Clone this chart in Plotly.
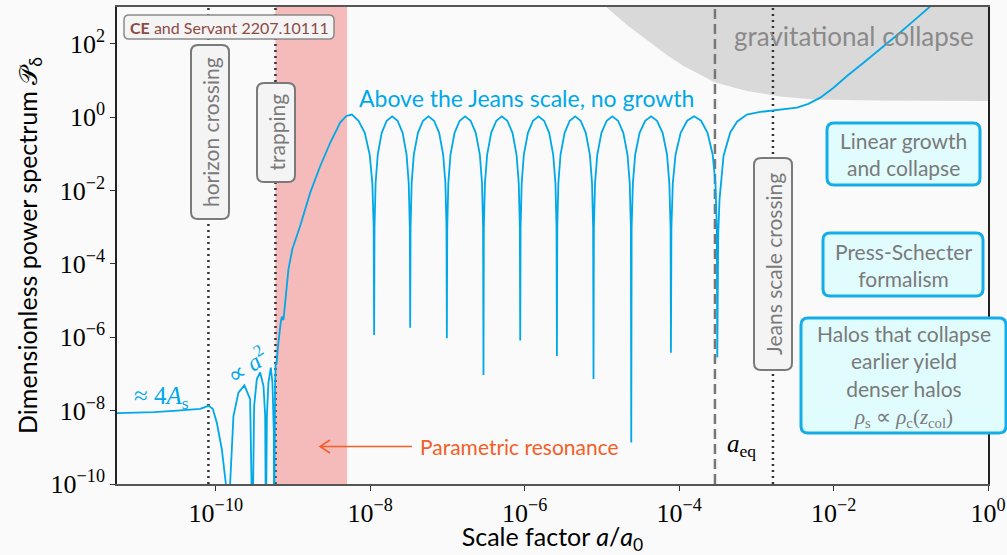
import numpy as np
import plotly.graph_objects as go

# curve: log10(a/a0), log10(P)
loga_rise = [-11.28, -10.80, -10.50, -10.203, -10.096, -10.04, -9.987, -9.922, -9.870, -9.841,
             -9.815, -9.772, -9.707, -9.630, -9.556, -9.526, -9.504, -9.469, -9.426, -9.383,
             -9.361, -9.352, -9.339, -9.319, -9.288, -9.267, -9.249, -9.245, -9.232, -9.226,
             -9.215, -9.197, -9.160, -9.145, -9.124, -9.089, -9.060, -9.008, -8.908, -8.778,
             -8.649, -8.519, -8.390, -8.31, -8.238, -8.152, -8.071, -8.008, -7.973, -7.956]
logp_rise = [-8.07, -8.04, -8.00, -7.95, -7.87, -7.95, -8.33, -9.06, -10.0, -11.5,
             -10.0, -8.15, -7.51, -7.31, -7.69, -11.5, -7.87, -7.14, -6.96, -7.33,
             -8.15, -11.5, -8.15, -7.24, -6.83, -7.24, -8.6, -11.5, -7.3, -6.70,
             -6.75, -6.29, -5.6, -5.44, -5.53, -4.69, -4.15, -3.59, -2.97, -2.06,
             -1.34, -0.70, -0.15, 0.03, 0.07, -0.10, -0.43, -1.02, -1.8, -3.0]

loga_osc = [
    -7.950,
    -7.945, -7.931, -7.903, -7.852, -7.787, -7.716, -7.646, -7.581, -7.530, -7.502, -7.488, -7.483,
    -7.478, -7.464, -7.436, -7.383, -7.317, -7.246, -7.174, -7.108, -7.056, -7.027, -7.013, -7.008,
    -7.003, -6.989, -6.961, -6.908, -6.842, -6.771, -6.700, -6.634, -6.581, -6.553, -6.539, -6.534,
    -6.529, -6.515, -6.486, -6.434, -6.367, -6.296, -6.225, -6.158, -6.106, -6.077, -6.063, -6.058,
    -6.053, -6.039, -6.011, -5.958, -5.892, -5.821, -5.749, -5.683, -5.631, -5.602, -5.588, -5.583,
    -5.578, -5.564, -5.536, -5.483, -5.417, -5.346, -5.275, -5.209, -5.156, -5.128, -5.114, -5.109,
    -5.104, -5.089, -5.060, -5.006, -4.938, -4.865, -4.791, -4.723, -4.669, -4.640, -4.625, -4.620,
    -4.615, -4.599, -4.569, -4.512, -4.440, -4.363, -4.286, -4.214, -4.157, -4.127, -4.111, -4.106,
    -4.100, -4.082, -4.046, -3.980, -3.896, -3.806, -3.716, -3.632, -3.566, -3.530, -3.512, -3.506,
]
logp_osc = [
    -5.94,
    -3.0, -1.8, -1.02, -0.43, -0.10, 0.02, -0.10, -0.43, -1.02, -1.8, -3.0, -5.74,
    -3.0, -1.8, -1.02, -0.43, -0.10, 0.02, -0.10, -0.43, -1.02, -1.8, -3.0, -6.03,
    -3.0, -1.8, -1.02, -0.43, -0.10, 0.02, -0.10, -0.43, -1.02, -1.8, -3.0, -7.03,
    -3.0, -1.8, -1.02, -0.43, -0.10, 0.02, -0.10, -0.43, -1.02, -1.8, -3.0, -6.09,
    -3.0, -1.8, -1.02, -0.43, -0.10, 0.02, -0.10, -0.43, -1.02, -1.8, -3.0, -6.51,
    -3.0, -1.8, -1.02, -0.43, -0.10, 0.02, -0.10, -0.43, -1.02, -1.8, -3.0, -7.14,
    -3.0, -1.8, -1.02, -0.43, -0.10, 0.02, -0.10, -0.43, -1.02, -1.8, -3.0, -8.87,
    -3.0, -1.8, -1.02, -0.43, -0.10, 0.02, -0.10, -0.43, -1.02, -1.8, -3.0, -6.42,
    -3.0, -1.8, -1.02, -0.43, -0.10, 0.02, -0.10, -0.43, -1.02, -1.8, -3.0, -6.55,
]

loga_late = [-3.494, -3.477, -3.425, -3.338, -3.247, -3.122, -2.95, -2.777, -2.474, -2.327,
             -2.172, -2.0, -1.826, -1.60, -1.395, -1.18, -0.964, -0.757, -0.62]
logp_late = [-3.2, -2.25, -1.06, -0.42, -0.12, 0.07, 0.14, 0.18, 0.26, 0.36,
             0.53, 0.80, 1.12, 1.50, 1.85, 2.23, 2.62, 3.0, 3.25]

# gravitational collapse boundary
collapse_loga = [-4.935, -4.65, -4.374, -4.15, -3.943, -3.532, -3.122, -2.691, -2.259, -1.395, 0.0]
collapse_logp = [2.98, 2.47, 2.03, 1.68, 1.39, 0.94, 0.71, 0.56, 0.48, 0.455, 0.44]

resonance_band = [-9.228, -8.30]
horizon_crossing = -10.096
trapping = -9.228
a_eq = -3.536
jeans_crossing = -2.785

tick_exps = [-10, -8, -6, -4, -2, 0]
ytick_exps = [-10, -8, -6, -4, -2, 0, 2]

BLUE = "rgb(0,168,232)"
GREY_TXT = "#7a7a7a"
SANS = "Lato"
SERIF = "Liberation Serif"

# layout geometry (pixels)
W_FIG, H_FIG = 1007, 555
L, R, T, B = 117, 19, 7, 71
PW, PH = W_FIG - L - R, H_FIG - T - B


def px(x):
    return (x - L) / PW


def py(y):
    return 1 - (y - T) / PH


def box_path(x0, y0, x1, y1, r=7):
    pts = [
        f"M{px(x0 + r)},{py(y0)}", f"L{px(x1 - r)},{py(y0)}",
        f"Q{px(x1)},{py(y0)} {px(x1)},{py(y0 + r)}", f"L{px(x1)},{py(y1 - r)}",
        f"Q{px(x1)},{py(y1)} {px(x1 - r)},{py(y1)}", f"L{px(x0 + r)},{py(y1)}",
        f"Q{px(x0)},{py(y1)} {px(x0)},{py(y1 - r)}", f"L{px(x0)},{py(y0 + r)}",
        f"Q{px(x0)},{py(y0)} {px(x0 + r)},{py(y0)}", "Z",
    ]
    return " ".join(pts)


fig = go.Figure()

# red parametric resonance band
b0, b1 = 10 ** resonance_band[0], 10 ** resonance_band[1]
fig.add_trace(go.Scatter(x=[b0, b1, b1, b0, b0], y=[1e-10, 1e-10, 1e3, 1e3, 1e-10],
                         fill="toself", fillcolor="rgb(245,187,187)", mode="none",
                         hoverinfo="skip", showlegend=False))

# grey gravitational collapse region
cx = list(10 ** np.array(collapse_loga)) + [1.0, 10 ** collapse_loga[0]]
cy = list(10 ** np.array(collapse_logp)) + [1e3, 1e3]
fig.add_trace(go.Scatter(x=cx, y=cy, fill="toself", fillcolor="rgb(217,217,217)",
                         mode="none", hoverinfo="skip", showlegend=False))

# vertical lines
for xv, col, dash in [(horizon_crossing, "#333333", "2px,4px"),
                      (trapping, "#333333", "2px,4px"),
                      (jeans_crossing, "#333333", "2px,4px"),
                      (a_eq, "#777777", "10px,5px")]:
    fig.add_trace(go.Scatter(x=[10 ** xv, 10 ** xv], y=[1e-10, 1e3], mode="lines",
                             line=dict(color=col, width=2.5, dash=dash),
                             hoverinfo="skip", showlegend=False))

loga = loga_rise + loga_osc + loga_late
logp = logp_rise + logp_osc + logp_late
fig.add_trace(go.Scatter(x=10 ** np.array(loga), y=10 ** np.array(logp), mode="lines",
                         line=dict(color=BLUE, width=1.8), showlegend=False))

shapes = []
# vertical grey boxes
for (x0, y0, x1, y1) in [(191, 45, 229, 219), (257, 83, 295, 182), (754, 158, 792, 370)]:
    shapes.append(dict(type="path", xref="paper", yref="paper", path=box_path(x0, y0, x1, y1),
                       fillcolor="#f4f4f4", line=dict(color="#7a7a7a", width=2), layer="above"))
# reference box
shapes.append(dict(type="path", xref="paper", yref="paper", path=box_path(124, 15, 334, 39, 5),
                   fillcolor="#f4f4f4", line=dict(color="#8a8a8a", width=1.5), layer="above"))
# cyan boxes
for (x0, y0, x1, y1) in [(827, 123, 980, 185), (823, 233, 983, 296), (801, 318, 1006, 433)]:
    shapes.append(dict(type="path", xref="paper", yref="paper", path=box_path(x0, y0, x1, y1),
                       fillcolor="#e0fcfd", line=dict(color="#14ade8", width=3), layer="above"))
# arrow for parametric resonance
ORANGE = "rgb(242,95,40)"
shapes.append(dict(type="path", xref="paper", yref="paper",
                   path=f"M{px(412)},{py(446.5)} L{px(320)},{py(446.5)} "
                        f"M{px(330)},{py(440)} L{px(320)},{py(446.5)} L{px(330)},{py(453)}",
                   line=dict(color=ORANGE, width=1.5), layer="above"))


def ann(text, x, y, size, color, font=SANS, angle=0, xanchor="center", yanchor="middle"):
    return dict(text=text, x=px(x), y=py(y), xref="paper", yref="paper", showarrow=False,
                textangle=angle, xanchor=xanchor, yanchor=yanchor,
                font=dict(family=font, size=size, color=color))


annotations = [
    ann("horizon crossing", 210, 132, 21, GREY_TXT, angle=-90),
    ann("trapping", 276, 132.5, 21, GREY_TXT, angle=-90),
    ann("Jeans scale crossing", 773, 264, 21, GREY_TXT, angle=-90),
    ann("<b>CE</b> and Servant 2207.10111", 229, 27.5, 16, "#8c4b43"),
    ann("Above the Jeans scale, no growth", 357, 98, 23, BLUE, xanchor="left"),
    ann("gravitational collapse", 976, 36, 26, "#8a8a8a", xanchor="right"),
    ann("Linear growth<br>and collapse", 903.5, 154, 21, GREY_TXT),
    ann("Press-Schecter<br>formalism", 903, 264.5, 21, GREY_TXT),
    ann("Halos that collapse<br>earlier yield<br>denser halos<br>"
        "<span style='font-family:Liberation Serif'><i>ρ</i><sub>s</sub> ∝ <i>ρ</i><sub>c</sub>"
        "(<i>z</i><sub>col</sub>)</span>", 903.5, 375.5, 21, GREY_TXT),
    ann("≈ 4<i>A</i><sub>s</sub>", 161, 397, 25, BLUE, font=SERIF),
    ann("∝ <i>a</i><sup>2</sup>", 246, 365, 24, BLUE, font=SERIF, angle=-33),
    ann("Parametric resonance", 418, 446.7, 21, ORANGE, xanchor="left"),
    ann("<i>a</i><sub>eq</sub>", 725, 445, 25, "black", font=SERIF, xanchor="left"),
]

fig.update_layout(
    width=W_FIG, height=H_FIG,
    margin=dict(l=L, r=R, t=T, b=B),
    paper_bgcolor="#fafafa", plot_bgcolor="#fafafa",
    shapes=shapes, annotations=annotations,
    showlegend=False,
)
fig.update_xaxes(
    type="log", range=[-11.28, 0], showgrid=False, zeroline=False, automargin=False,
    showline=True, linecolor="#555555", linewidth=1.5, mirror=True,
    ticks="outside", ticklen=5, tickcolor="#333333",
    tickvals=[10.0 ** e for e in tick_exps],
    ticktext=[f"10<sup>{'−' if e < 0 else ''}{abs(e)}</sup>" for e in tick_exps],
    tickfont=dict(family=SERIF, size=26, color="black"),
    title=dict(text="Scale factor <i>a</i>/<i>a</i><sub>0</sub>", standoff=4,
               font=dict(family=SANS, size=25, color="black")),
)
fig.update_yaxes(
    type="log", range=[-10, 3], showgrid=False, zeroline=False, automargin=False,
    showline=True, linecolor="#222222", linewidth=1.5, mirror=True,
    ticks="outside", ticklen=5, tickcolor="#333333",
    tickvals=[10.0 ** e for e in ytick_exps],
    ticktext=[f"10<sup>{'−' if e < 0 else ''}{abs(e)}</sup>" for e in ytick_exps],
    tickfont=dict(family=SERIF, size=26, color="black"),
    title=dict(text="Dimensionless power spectrum 𝒫<sub>δ</sub>", standoff=6,
               font=dict(family=SANS, size=25, color="black")),
)

fig.write_html("out.html", config={"displayModeBar": False},
               post_script="document.body.style.margin='0px';"
                           "document.body.style.overflow='hidden';"
                           "document.body.style.background='#fafafa';")
